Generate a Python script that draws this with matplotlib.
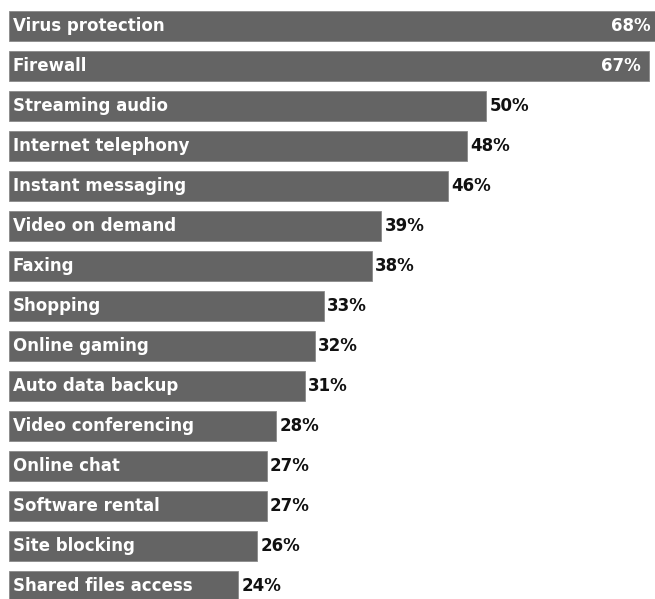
import matplotlib
matplotlib.use("Agg")
import matplotlib.pyplot as plt
from matplotlib.transforms import offset_copy

categories = [
    "Virus protection", "Firewall", "Streaming audio", "Internet telephony",
    "Instant messaging", "Video on demand", "Faxing", "Shopping",
    "Online gaming", "Auto data backup", "Video conferencing", "Online chat",
    "Software rental", "Site blocking", "Shared files access",
]
values = [68, 67, 50, 48, 46, 39, 38, 33, 32, 31, 28, 27, 27, 26, 24]
value_labels = [f"{v}%" for v in values]

W, H, DPI = 655, 599, 100
fig = plt.figure(figsize=(W / DPI, H / DPI), dpi=DPI)
fig.patch.set_facecolor("white")
ax = fig.add_axes([0, 0, 1, 1])
ax.set_axis_off()

px_per_pct = 9.55
x0_px = 9
ax.set_xlim(-x0_px / px_per_pct, (W - x0_px) / px_per_pct)
pitch = 40.0
first_center = 26.0
ax.set_ylim((H - first_center) / pitch, -first_center / pitch)

bar_color = "#646464"
ypos = list(range(len(categories)))
ax.barh(ypos, values, height=0.75, color=bar_color, edgecolor="#8a8a8a",
        linewidth=0.6, left=0)

font = dict(family="DejaVu Sans", fontweight="bold", fontsize=12)
inside_threshold = 60
for y, cat, v, lab in zip(ypos, categories, values, value_labels):
    ax.text(0, y, cat, color="white", ha="left", va="center",
            transform=offset_copy(ax.transData, fig=fig, x=4, y=0, units="dots"),
            **font)
    if v >= inside_threshold:
        ax.text(v, y, lab, color="white", ha="right", va="center",
                transform=offset_copy(ax.transData, fig=fig, x=-8, y=0, units="dots"),
                **font)
    else:
        ax.text(v, y, lab, color="#111111", ha="left", va="center",
                transform=offset_copy(ax.transData, fig=fig, x=3, y=0, units="dots"),
                **font)

fig.savefig("out.png", dpi=DPI, facecolor="white")
